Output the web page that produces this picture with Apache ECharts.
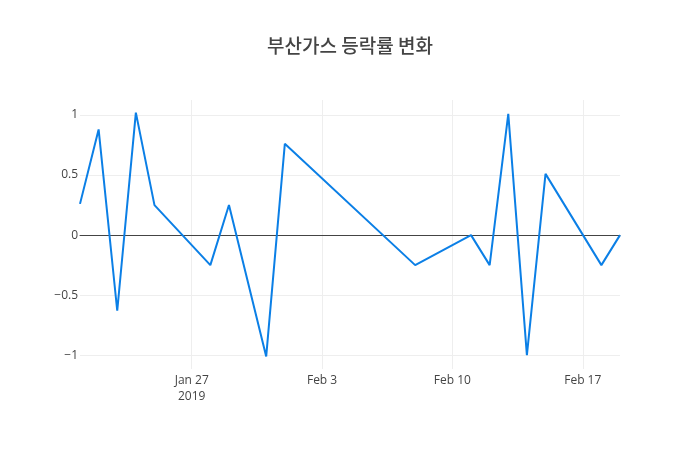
<!DOCTYPE html>
<html>
<head>
<meta charset="utf-8">
<script src="https://cdn.jsdelivr.net/npm/echarts@6/dist/echarts.min.js"></script>
<style>
  html, body { margin: 0; padding: 0; background: #fff; }
  #chart { width: 700px; height: 450px; }
</style>
</head>
<body>
<div id="chart"></div>
<script>
// 거래일과 등락률(%)
var dates = ['2019-01-21', '2019-01-22', '2019-01-23', '2019-01-24', '2019-01-25',
             '2019-01-28', '2019-01-29', '2019-01-31', '2019-02-01', '2019-02-08',
             '2019-02-11', '2019-02-12', '2019-02-13', '2019-02-14', '2019-02-15',
             '2019-02-18', '2019-02-19'];
var changes = [0.26, 0.88, -0.63, 1.02, 0.25,
               -0.25, 0.25, -1.01, 0.76, -0.25,
               0, -0.25, 1.01, -1.0, 0.51,
               -0.25, 0];
var xTicks = ['2019-01-27', '2019-02-03', '2019-02-10', '2019-02-17'];
var yTicks = [-1, -0.5, 0, 0.5, 1];

var months = ['Jan', 'Feb', 'Mar', 'Apr', 'May', 'Jun', 'Jul', 'Aug', 'Sep', 'Oct', 'Nov', 'Dec'];
function toTime(d) {
    var p = d.split('-');
    return Date.UTC(+p[0], +p[1] - 1, +p[2]);
}
var times = dates.map(toTime);
var tickTimes = xTicks.map(toTime);

var myChart = echarts.init(document.getElementById('chart'), null, { renderer: 'canvas' });

var option = {
    animation: false,
    backgroundColor: '#fff',
    title: {
        text: '부산가스 등락률 변화',
        left: 'center',
        top: 31,
        textStyle: {
            fontFamily: 'Noto Sans CJK KR',
            fontSize: 19,
            fontWeight: 500,
            color: '#444'
        }
    },
    grid: { left: 80, right: 80, top: 100, bottom: 81 },
    xAxis: {
        type: 'value',
        min: times[0],
        max: times[times.length - 1],
        axisLine: { show: true, onZero: true, lineStyle: { color: '#444', width: 1 } },
        axisTick: { show: false, customValues: tickTimes },
        splitLine: { show: true, lineStyle: { color: '#eee', width: 1 } },
        axisLabel: {
            customValues: tickTimes,
            margin: 4,
            fontFamily: 'Open Sans',
            fontSize: 12,
            color: '#444',
            lineHeight: 16,
            formatter: function (v) {
                var d = new Date(v);
                var s = months[d.getUTCMonth()] + ' ' + d.getUTCDate();
                // 첫 눈금에만 연도 표시
                if (v === tickTimes[0]) s += '\n' + d.getUTCFullYear();
                return s;
            }
        }
    },
    yAxis: {
        type: 'value',
        min: -1.115,
        max: 1.125,
        axisLine: { show: false },
        axisTick: { show: false, customValues: yTicks },
        splitLine: { show: true, lineStyle: { color: '#eee', width: 1 } },
        axisLabel: {
            customValues: yTicks,
            margin: 2,
            fontFamily: 'Open Sans',
            fontSize: 12,
            color: '#444',
            formatter: function (v) {
                return v < 0 ? '\u2212' + String(-v) : String(v);
            }
        }
    },
    series: [{
        type: 'line',
        data: times.map(function (t, i) { return [t, changes[i]]; }),
        showSymbol: false,
        symbol: 'none',
        lineStyle: { color: '#0b7fe6', width: 2 },
        itemStyle: { color: '#0b7fe6' },
        z: 3
    }]
};

myChart.setOption(option);
</script>
</body>
</html>
